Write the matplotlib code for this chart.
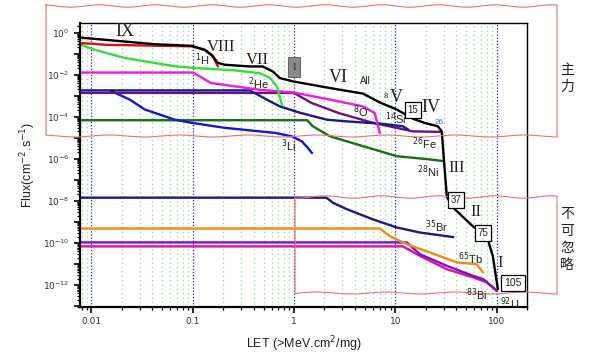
import numpy as np
import matplotlib
matplotlib.use("Agg")
import matplotlib.pyplot as plt
from matplotlib.ticker import FixedLocator, FuncFormatter, LogLocator, NullFormatter
from matplotlib.patches import Rectangle
from matplotlib.lines import Line2D

# ---------------- data ----------------
all_x = [0.0077, 0.042, 0.098, 0.131, 0.154, 0.177, 0.207, 0.366, 0.49, 0.617, 0.724, 0.973, 2.26,
         4.79, 7.08, 10.35, 14.9, 19.6, 26.3, 28.8, 30.2, 32.3, 37.0, 58.3, 80.2, 92.0, 103.0]
all_y = [0.58, 0.28, 0.234, 0.151, 0.087, 0.036, 0.0295, 0.0245, 0.0245, 0.0141, 0.0069, 0.0048, 0.0023,
         0.00126, 4.7e-4, 2.2e-4, 8.1e-5, 5.0e-5, 3.5e-5, 2.0e-5, 9.3e-7, 1.6e-8, 4.9e-9, 6.2e-10,
         2.1e-10, 2.3e-11, 6.5e-13]

h_x = [0.0077, 0.0145, 0.0665, 0.098, 0.132, 0.158, 0.177]
h_y = [0.32, 0.26, 0.23, 0.22, 0.15, 0.072, 0.025]

he_x = [0.0077, 0.0108, 0.0213, 0.0665, 0.1, 0.26, 0.459, 0.577, 0.678, 0.76]
he_y = [0.275, 0.151, 0.062, 0.025, 0.021, 0.016, 0.0117, 0.0071, 0.00275, 3.7e-4]

o_x = [0.0077, 0.1, 0.117, 0.151, 0.29, 0.46, 1.0, 2.26, 4.79, 6.27, 7.03]
o_y = [0.0126, 0.0126, 0.0083, 0.004, 0.0026, 0.0019, 0.0014, 6.5e-4, 3.1e-4, 1.5e-4, 1.7e-5]

si_x = [0.0077, 0.366, 0.538, 0.724, 1.14, 2.11, 3.32, 7.03, 11.9, 13.3]
si_y = [1.78e-3, 1.78e-3, 6.5e-4, 3.1e-4, 1.55e-4, 7.2e-5, 6.0e-5, 4.7e-5, 3.5e-5, 2.5e-5]

fe_x = [0.0077, 1.0, 1.49, 2.75, 6.03, 10.35, 14.9, 27.5]
fe_y = [1.35e-3, 1.35e-3, 4.5e-4, 1.5e-4, 5.1e-5, 2.95e-5, 2.0e-5, 1.9e-5]

li_x = [0.0158, 0.0239, 0.0336, 0.0665, 0.098, 0.207, 0.646, 0.95, 1.19, 1.37, 1.50]
li_y = [1.62e-3, 6.5e-4, 2.2e-4, 7.2e-5, 5.1e-5, 2.95e-5, 1.7e-5, 1.17e-5, 6.8e-6, 3.3e-6, 1.9e-6]

ni_x = [0.0077, 1.35, 1.53, 2.26, 4.79, 10.35, 21.9, 29.5]
ni_y = [6.8e-5, 6.8e-5, 3.55e-5, 1.17e-5, 4.0e-6, 1.32e-6, 9.3e-7, 7.8e-7]

br_x = [0.0077, 2.09, 2.42, 3.32, 6.0, 10.35, 17.5, 37.1]
br_y = [1.41e-8, 1.41e-8, 8.1e-9, 4.0e-9, 1.32e-9, 5.4e-10, 3.1e-10, 1.9e-10]

tb_x = [0.0077, 7.03, 8.83, 13.0, 21.9, 40.7, 63.0, 73.5]
tb_y = [4.8e-10, 4.8e-10, 2.1e-10, 8.7e-11, 3.5e-11, 1.17e-11, 9.8e-12, 4.0e-12]

u_x = [0.0077, 13.0, 17.5, 32.3, 58.3, 73.5, 92.0, 100.0]
u_y = [1.05e-10, 1.05e-10, 2.9e-11, 8.1e-12, 2.75e-12, 1.9e-12, 7.8e-13, 5.4e-13]

bi_x = [0.0077, 11.9, 17.5, 32.3, 58.3, 80.2, 100.0]
bi_y = [6.8e-11, 6.8e-11, 2.4e-11, 5.6e-12, 2.3e-12, 1.32e-12, 5.4e-13]

x_ticks = [0.01, 0.1, 1, 10, 100]
x_tick_labels = ["0.01", "0.1", "1", "10", "100"]

# ---------------- figure ----------------
W, H = 597, 355
fig = plt.figure(figsize=(W / 100, H / 100), dpi=100)
fig.patch.set_facecolor("white")

def P(x, y):
    return (x / W, 1 - y / H)

L, T, R, B = 80, 22.7, 527, 307
ax = fig.add_axes([L / W, 1 - B / H, (R - L) / W, (B - T) / H])
ax.set_xscale("log")
ax.set_yscale("log")
ax.set_xlim(0.0077, 200)
ax.set_ylim(10 ** -13.05, 10 ** 0.47)

# grid
ax.xaxis.set_minor_locator(LogLocator(base=10, subs=np.arange(2, 10), numticks=20))
ax.xaxis.set_minor_formatter(NullFormatter())
ax.grid(which="minor", axis="x", color="#8fd88f", linestyle=(0, (1, 2.5)), lw=0.9)
ax.grid(which="major", axis="x", color="#2a2ab0", linestyle=(0, (1, 1.5)), lw=0.9)
ax.set_axisbelow(True)

lw = 1.7
ax.plot(bi_x, bi_y, color="#e0109a", lw=lw)
ax.plot(u_x, u_y, color="#7a10d0", lw=lw)
ax.plot(tb_x, tb_y, color="#f08c10", lw=lw)
ax.plot(br_x, br_y, color="#1a1a86", lw=lw)
ax.plot(ni_x, ni_y, color="#157015", lw=lw)
ax.plot(li_x, li_y, color="#1515d8", lw=lw)
ax.plot(fe_x, fe_y, color="#701080", lw=lw)
ax.plot(si_x, si_y, color="#1a1a86", lw=lw)
ax.plot(o_x, o_y, color="#e81ce8", lw=lw)
ax.plot(he_x, he_y, color="#33e033", lw=lw)
ax.plot(h_x, h_y, color="#e01010", lw=lw)
ax.plot(all_x, all_y, color="black", lw=lw)

# ticks
ax.xaxis.set_major_locator(FixedLocator(x_ticks))
ax.set_xticklabels(x_tick_labels)
ax.yaxis.set_major_locator(FixedLocator([10.0 ** k for k in range(-13, 1)]))
ax.yaxis.set_major_formatter(FuncFormatter(
    lambda v, p: (r"$10^{%d}$" % round(np.log10(v))) if round(np.log10(v)) % 2 == 0 else ""))
ax.yaxis.set_minor_locator(LogLocator(base=10, subs=np.arange(2, 10), numticks=30))
ax.yaxis.set_minor_formatter(NullFormatter())
ax.tick_params(axis="both", which="major", direction="out", length=4, width=1.2,
               labelsize=6.5, colors="black", labelcolor="#333333")
ax.tick_params(axis="both", which="minor", direction="out", length=2.2, width=0.9)
for s in ax.spines.values():
    s.set_linewidth(1.0)
ax.spines["left"].set_linewidth(1.6)
ax.spines["bottom"].set_linewidth(1.6)

ax.set_xlabel(r"LET (>MeV.cm$^2$/mg)", fontsize=9, color="#222222", labelpad=6,
              family="Liberation Sans")
ax.set_ylabel(r"Flux(cm$^{-2}$.s$^{-1}$)", fontsize=9, color="#222222", labelpad=4,
              family="Liberation Sans")

# ---------------- annotations ----------------
serif = "Liberation Serif"
def roman(x, y, s, size=13):
    fig.text(*P(x, y), s, family=serif, fontsize=size, ha="center", va="center", color="#222222")

roman(125, 31, "IX")
roman(221, 47, "VIII", 12)
roman(257, 60, "VII", 12)
roman(338, 78, "VI")
roman(396, 98, "V")
roman(431, 108, "IV")
roman(457, 168, "III", 12)
roman(476, 212, "II", 12)
roman(500, 263, "I", 12)

def lab(x, y, s, size=8, color="#222222"):
    fig.text(*P(x, y), s, family="Liberation Sans", fontsize=size, ha="center", va="center",
             color=color)

lab(202, 60, r"$^{1}$H")
lab(259, 84, r"$^{2}$He")
lab(361, 112, r"$^{8}$O")
lab(365, 81, "All", 7)
lab(386, 97, "8", 5.5)
lab(396, 119, r"$^{14}$Si")
lab(439, 122, "26", 6, "#3a7a9a")
lab(424, 144, r"$^{26}$Fe")
lab(428, 172, r"$^{28}$Ni")
lab(289, 146, r"$^{3}$Li")
lab(437, 227, r"$^{35}$Br")
lab(470, 259, r"$^{65}$Tb")
lab(477, 295, r"$^{83}$Bi")
lab(510, 304, r"$^{92}$U")

def boxed(x, y, s, size=7):
    fig.text(*P(x, y), s, family="Liberation Sans", fontsize=size, ha="center", va="center",
             color="#222222",
             bbox=dict(boxstyle="square,pad=0.3", fc="white", ec="black", lw=0.9))

boxed(413, 110, "15")
boxed(456, 200, "37")
boxed(483, 233, "75")
boxed(513, 283, "105", 7.5)

# grey marker
gx, gy = P(288, 77)
fig.patches.append(Rectangle((gx, gy), 12 / W, 20 / H, transform=fig.transFigure,
                             fc="#8a8a8a", ec="#555555", lw=0.6))
fig.text(*P(294, 67), "I", family=serif, fontsize=8, ha="center", va="center", color="#333333")

# wavy red boxes
def wavy_box(x0, y0, x1, y1):
    xs = np.linspace(x0, x1, 120)
    top = y0 + 1.2 * np.sin(xs / 9.0)
    bot = y1 + 1.0 * np.sin(xs / 11.0 + 1.0)
    px = np.concatenate([xs, [x1, x1], xs[::-1], [x0, x0]])
    py = np.concatenate([top, [top[-1], bot[-1]], bot[::-1], [bot[0], top[0]]])
    fig.lines.append(Line2D(px / W, 1 - py / H, transform=fig.transFigure,
                            color="#f07070", lw=0.8))

wavy_box(46, 6, 557, 136)
wavy_box(295, 197, 557, 293)

cjk = ["Noto Sans CJK SC", "DejaVu Sans"]
fig.text(*P(567, 70), "主", family=cjk, fontsize=10, ha="center", va="center", color="#222222")
fig.text(*P(567, 87), "力", family=cjk, fontsize=10, ha="center", va="center", color="#222222")
for i, ch in enumerate("不可忽略"):
    fig.text(*P(567, 214 + i * 17), ch, family=cjk, fontsize=10, ha="center", va="center",
             color="#222222")

fig.savefig("out.png", dpi=100)
